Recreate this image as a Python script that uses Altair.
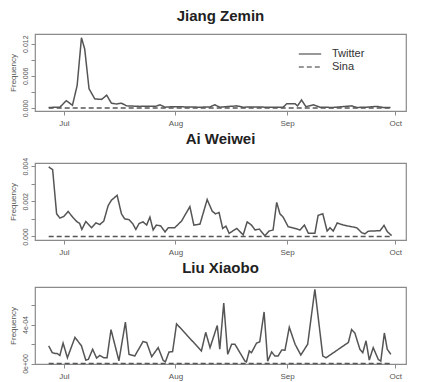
import altair as alt
import pandas as pd

START = pd.Timestamp("2011-07-01")

# day offsets from Jul 1, 2011 and frequencies
jz_days = [-4.2, -1.1, 0.7, 2.4, 3.7, 4.9, 5.8, 7.0, 8.6, 10.5, 11.9, 13.2, 14.6, 16.0, 17.4,
           21.1, 25.7, 26.7, 28.1, 30.4, 34.1, 37.8, 40.6, 41.9, 43.3, 48.0, 49.8, 52.6, 56.3,
           60.9, 61.9, 64.2, 64.9, 66.0, 67.2, 69.3, 71.1, 74.8, 79.9, 81.3, 84.1, 86.9, 88.7, 90.7]
jz_twitter = [0.0001, 0.00015, 0.00137, 0.0005, 0.0042, 0.0131, 0.011, 0.0036, 0.0017, 0.0016,
              0.0024, 0.0009, 0.00075, 0.0009, 0.0004, 0.0003, 0.00035, 0.0006, 0.00015, 0.00025,
              0.0002, 0.00015, 0.0002, 0.0006, 0.00015, 0.0004, 0.00015, 0.0002, 0.00015, 0.00015,
              0.0008, 0.0008, 0.0004, 0.0015, 0.00025, 0.0006, 0.00015, 0.0001, 0.0004, 0.0001,
              0.00015, 0.0003, 0.0001, 0.0001]

aw_days = [-4.2, -3.1, -2.0, -1.1, 0.0, 1.2, 2.6, 3.7, 4.4, 5.0, 6.1, 7.7, 8.9, 10.0, 11.1, 12.3,
           13.2, 14.8, 16.0, 16.9, 18.1, 19.1, 20.0, 20.9, 22.0, 23.0, 23.9, 24.8, 25.7, 26.9,
           28.1, 29.0, 30.8, 32.7, 35.0, 36.1, 37.8, 39.8, 41.2, 42.1, 43.1, 44.1, 45.0, 45.9,
           48.0, 49.8, 50.9, 52.1, 53.1, 54.3, 55.8, 57.0, 58.1, 59.1, 60.0, 60.9, 62.3, 64.2,
           65.6, 66.8, 67.9, 69.7, 70.6, 71.9, 73.1, 73.9, 74.8, 75.9, 77.6, 79.0, 81.3, 82.7,
           83.6, 84.5, 87.8, 88.9, 89.8, 91.0]
aw_twitter = [0.00396, 0.0038, 0.00129, 0.00105, 0.00114, 0.00142, 0.00107, 0.00083, 0.00074,
              0.0004, 0.00085, 0.0005, 0.00077, 0.00068, 0.00088, 0.00175, 0.00206, 0.00234,
              0.00129, 0.001, 0.00096, 0.00074, 0.0004, 0.00074, 0.00083, 0.00065, 0.0011,
              0.00037, 0.00065, 0.0006, 0.00026, 0.0005, 0.0005, 0.00088, 0.0017, 0.00065,
              0.0007, 0.0021, 0.00144, 0.00129, 0.00136, 0.00046, 0.00059, 0.00018, 0.00046,
              0.00009, 0.00083, 0.00065, 0.00037, 0.00042, 0.00004, 0.00031, 0.00037, 0.00194,
              0.00129, 0.0011, 0.00055, 0.00046, 0.00037, 0.00065, 0.00018, 0.00018, 0.0012,
              0.00129, 0.00031, 0.0005, 0.00031, 0.00077, 0.00065, 0.00059, 0.0005, 0.00022,
              0.00015, 0.0003, 0.00033, 0.00063, 0.00028, 0.00005]

lx_days = [-4.2, -3.2, -2.5, -1.9, -1.1, -0.2, 1.0, 3.1, 4.9, 6.1, 6.8, 8.0, 9.1, 10.0, 11.1,
           12.0, 13.1, 15.3, 17.1, 18.1, 19.7, 22.0, 23.0, 24.4, 26.2, 27.6, 28.2, 29.2, 30.2,
           31.3, 38.2, 39.4, 40.6, 42.6, 43.3, 44.4, 45.5, 46.6, 47.5, 50.3, 50.7, 51.5, 52.1,
           53.5, 54.4, 55.6, 56.6, 57.7, 58.6, 59.5, 60.5, 61.4, 62.6, 64.2, 65.8, 67.7, 69.7,
           71.9, 72.8, 79.0, 79.9, 80.8, 82.2, 83.0, 83.9, 84.8, 85.9, 87.3, 88.0, 89.0, 89.8, 90.8]
lx_twitter = [1.81e-4, 1.11e-4, 1.04e-4, 1.04e-4, 0.83e-4, 2.09e-4, 0.59e-4, 2.68e-4, 1.81e-4,
              0.35e-4, 0.42e-4, 1.46e-4, 0.56e-4, 0.83e-4, 0.59e-4, 0.59e-4, 3.48e-4, 0.28e-4,
              4.24e-4, 0.94e-4, 0.77e-4, 2.26e-4, 2.16e-4, 0.70e-4, 1.63e-4, 0.31e-4, 0.17e-4,
              1.18e-4, 1.22e-4, 4.07e-4, 1.29e-4, 3.2e-4, 1.63e-4, 3.9e-4, 1.46e-4, 6.2e-4,
              0.94e-4, 1.98e-4, 1.98e-4, 0.24e-4, 0.17e-4, 1.29e-4, 1.11e-4, 2.09e-4, 2.23e-4,
              5.29e-4, 0.24e-4, 1.18e-4, 0.77e-4, 0.77e-4, 1.39e-4, 1.36e-4, 3.72e-4, 1.98e-4,
              0.87e-4, 1.98e-4, 7.62e-4, 0.77e-4, 0.59e-4, 2.16e-4, 3.48e-4, 3.13e-4, 1.46e-4,
              1.11e-4, 2.33e-4, 0.35e-4, 1.63e-4, 0.42e-4, 0.24e-4, 3.13e-4, 1.46e-4, 0.94e-4]

sina_days = [-4.2, 90.8]
sina_vals = [0.0, 0.0]

titles = ["Jiang Zemin", "Ai Weiwei", "Liu Xiaobo"]
series_names = ["Twitter", "Sina"]

LINE = "#555555"
GRID = "#8a8a8a"
FONT = "Liberation Sans"


def frame(days, vals):
    rows = []
    for d, v in zip(days, vals):
        rows.append({"date": START + pd.to_timedelta(d, unit="D"), "freq": v, "series": "Twitter"})
    for d, v in zip(sina_days, sina_vals):
        rows.append({"date": START + pd.to_timedelta(d, unit="D"), "freq": v, "series": "Sina"})
    return pd.DataFrame(rows)


def dt(m, d):
    return alt.DateTime(year=2011, month=m, date=d)


def panel(title, days, vals, ydomain, yticks, label_expr, legend):
    df = frame(days, vals)
    x = alt.X("date:T",
              scale=alt.Scale(domain=[dt(6, 23), dt(10, 4)]),
              axis=alt.Axis(values=[dt(7, 1), dt(8, 1), dt(9, 1), dt(10, 1)], format="%b",
                            title=None, grid=False, domain=False, tickSize=4,
                            tickColor=GRID, labelColor="#555", labelFontSize=8,
                            labelPadding=4, labelFont=FONT))
    y = alt.Y("freq:Q",
              scale=alt.Scale(domain=ydomain, nice=False, zero=False),
              axis=alt.Axis(values=yticks, labelExpr=label_expr, title="Frequency",
                            titleFontSize=8, titleFontWeight="normal", titleColor="#555",
                            titlePadding=4, grid=False, domain=False, tickSize=4,
                            tickColor=GRID, labelColor="#555", labelFontSize=7,
                            labelAngle=270, labelAlign="center", labelBaseline="bottom",
                            labelPadding=3, labelFont=FONT, titleFont=FONT))
    if legend:
        lg = alt.Legend(title=None, orient="none", legendX=267, legendY=12,
                        symbolType="M-1.6,0H1.6", symbolSize=196, symbolStrokeWidth=1.3,
                        symbolStrokeColor="#777", labelFontSize=11, labelColor="#333",
                        labelFont=FONT, labelOffset=14, rowPadding=-1, padding=0)
    else:
        lg = None
    sd = alt.StrokeDash("series:N",
                        scale=alt.Scale(domain=series_names, range=[[1, 0], [5, 3]]),
                        legend=lg)
    return (alt.Chart(df, title=alt.Title(title, fontSize=15, fontWeight="bold",
                                          font=FONT, color="#222", offset=10))
            .mark_line(color=LINE, strokeWidth=1.5)
            .encode(x=x, y=y, strokeDash=sd, order="date:T")
            .properties(width=371, height=77))


p1 = panel(titles[0], jz_days, jz_twitter, [-0.00056, 0.0138],
           [0, 0.003, 0.006, 0.009, 0.012],
           "datum.value < 0.0001 ? '0.000' : (abs(datum.value - 0.006) < 0.0001 ? '0.006' : (abs(datum.value - 0.012) < 0.0001 ? '0.012' : ''))",
           True)
p2 = panel(titles[1], aw_days, aw_twitter, [-0.0002, 0.00418],
           [0, 0.001, 0.002, 0.003, 0.004],
           "datum.value < 0.0001 ? '0.000' : (abs(datum.value - 0.002) < 0.0001 ? '0.002' : (abs(datum.value - 0.004) < 0.0001 ? '0.004' : ''))",
           False)
p3 = panel(titles[2], lx_days, lx_twitter, [-0.000005, 0.000785],
           [0, 0.0002, 0.0004, 0.0006],
           "datum.value < 0.00001 ? '0e+00' : (abs(datum.value - 0.0004) < 0.00001 ? '4e-04' : '')",
           False)

chart = (alt.vconcat(p1, p2, p3, spacing=3)
         .resolve_scale(strokeDash="independent")
         .configure(padding=0, background="white")
         .configure_view(stroke=GRID, strokeWidth=1.2))

chart.save("out.html", embed_options={"renderer": "svg", "actions": False})
